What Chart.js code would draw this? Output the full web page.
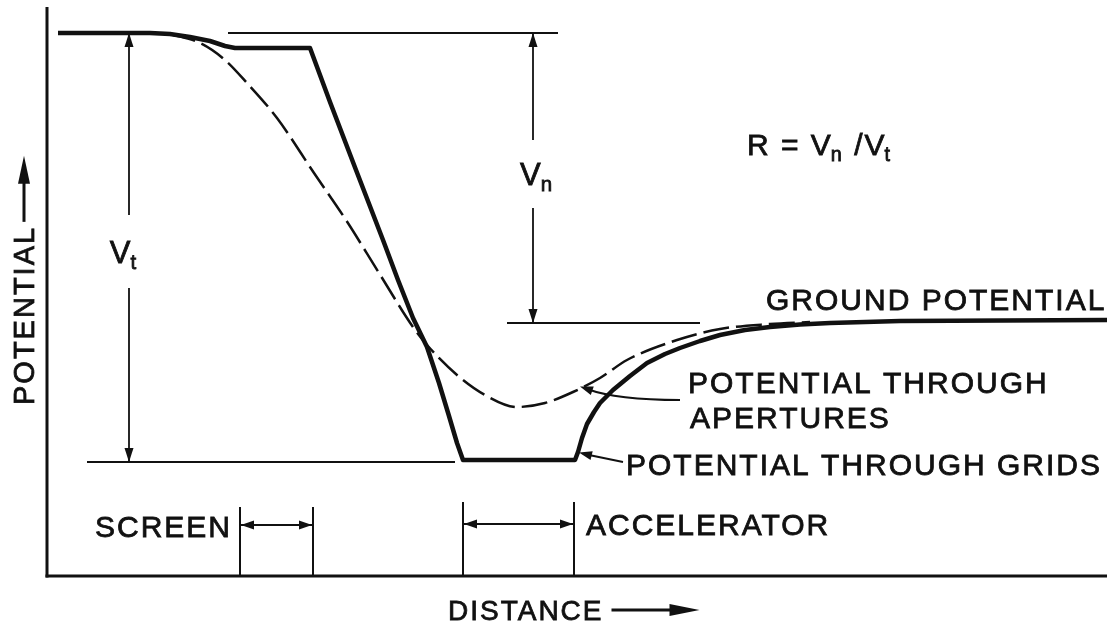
<!DOCTYPE html>
<html>
<head>
<meta charset="utf-8">
<title>Potential through grids and apertures</title>
<script src="https://cdn.jsdelivr.net/npm/chart.js@4.4.1/dist/chart.umd.min.js"></script>
<style>
  html, body { margin: 0; padding: 0; background: #fff; }
  #wrap { width: 1107px; height: 629px; }
</style>
</head>
<body>
<div id="wrap"><canvas id="chart" width="1107" height="629"></canvas></div>
<script>
// Distance (x) and potential (y) in drawing units, origin at the axes corner
const gridsDistance  = [1.1, 10.3, 12.3, 14.3, 16.3, 17.8, 18.8, 26.3, 28.3, 30.9, 33.6, 35.1, 36.6, 38.0, 39.2, 40.2, 41.0, 41.6, 52.8, 53.1, 53.5, 54.0, 54.7, 55.3, 56.6, 58.3, 60.0, 61.8, 63.3, 65.3, 67.3, 69.8, 72.3, 75.3, 78.3, 85.3, 106];
const gridsPotential = [54.3, 54.3, 54.2, 53.9, 53.5, 53.0, 52.8, 52.8, 47.4, 40.6, 33.6, 29.6, 25.8, 22.9, 19.3, 16.0, 13.3, 11.6, 11.6, 12.4, 13.8, 15.2, 16.4, 17.3, 18.6, 20.0, 21.3, 22.2, 22.8, 23.5, 24.1, 24.6, 24.9, 25.15, 25.3, 25.5, 25.6];

const apertureDistance  = [12.3, 15.3, 17.8, 20.0, 23.0, 26.7, 29.9, 33.2, 36.6, 38.0, 41.0, 43.8, 47.0, 49.8, 52.6, 55.3, 58.0, 63.0, 67.3, 72.3, 76.3];
const aperturePotential = [54.2, 53.3, 51.6, 49.3, 45.8, 40.3, 35.6, 30.3, 24.9, 23.1, 20.1, 18.1, 16.9, 17.3, 18.4, 19.8, 21.6, 23.6, 24.7, 25.2, 25.4];

// reference levels: total (top), accelerator (bottom), ground
const topLevel    = 54.3;
const accelLevel  = 11.4;
const groundLevel = 25.3;
const topRef    = [18.1, 51.1];
const accelRef  = [4.0, 40.8];
const groundRef = [46.0, 65.3];

// electrode extents along distance
const screenSpan = [19.3, 26.6];
const accelSpan  = [41.6, 52.7];

const ink = '#111';
const FONT = '"Liberation Sans", Arial, sans-serif';

function pts(xs, ys) { return xs.map((x, i) => ({ x, y: ys[i] })); }
function flat(xs, y) { return xs.map(x => ({ x, y })); }

function head(ctx, tx, ty, dx, dy, len, half) {
  const l = Math.hypot(dx, dy); dx /= l; dy /= l;
  ctx.beginPath();
  ctx.moveTo(tx, ty);
  ctx.lineTo(tx - dx * len - dy * half, ty - dy * len + dx * half);
  ctx.lineTo(tx - dx * len + dy * half, ty - dy * len - dx * half);
  ctx.closePath();
  ctx.fill();
}

function line(ctx, x1, y1, x2, y2, w) {
  ctx.lineWidth = w;
  ctx.beginPath(); ctx.moveTo(x1, y1); ctx.lineTo(x2, y2); ctx.stroke();
}

// slightly heavier lettering, like the inked original
function label(ctx, t, x, y) {
  ctx.fillText(t, x, y);
  ctx.lineWidth = 0.8;
  ctx.strokeText(t, x, y);
}

// pieces: [text, isSubscript]
function richText(ctx, pieces, x, y, size, align) {
  const widths = pieces.map(([t, sub]) => {
    ctx.font = (sub ? size * 0.66 : size) + 'px ' + FONT;
    return ctx.measureText(t).width;
  });
  const total = widths.reduce((a, b) => a + b, 0);
  let cx = align === 'center' ? x - total / 2 : align === 'right' ? x - total : x;
  ctx.textAlign = 'left';
  pieces.forEach(([t, sub], i) => {
    ctx.font = (sub ? size * 0.66 : size) + 'px ' + FONT;
    label(ctx, t, sub ? cx - 2 : cx, sub ? y + size * 0.2 : y);
    cx += widths[i] - (sub ? 2 : 0);
  });
}

const annotate = {
  id: 'annotate',
  afterDatasetsDraw(chart) {
    const { ctx, chartArea: a, scales: { x: sx, y: sy } } = chart;
    const X = v => sx.getPixelForValue(v), Y = v => sy.getPixelForValue(v);
    ctx.save();
    ctx.strokeStyle = ink; ctx.fillStyle = ink;
    ctx.textBaseline = 'alphabetic';
    ctx.letterSpacing = '2px';

    // axes
    line(ctx, a.left, a.top + 1, a.left, a.bottom + 1.5, 3);
    line(ctx, a.left - 1.5, a.bottom, a.right, a.bottom, 3);

    // Vt dimension
    const vtx = X(8.2);
    line(ctx, vtx, Y(topLevel), vtx, Y(36.1), 1.8);
    line(ctx, vtx, Y(28.8), vtx, Y(accelLevel), 1.8);
    head(ctx, vtx, Y(topLevel), 0, -1, 14, 4.5);
    head(ctx, vtx, Y(accelLevel), 0, 1, 14, 4.5);
    richText(ctx, [['V', false], ['t', true]], vtx - 4, Y(31.3), 31, 'center');

    // Vn dimension
    const vnx = X(48.6);
    line(ctx, vnx, Y(topLevel), vnx, Y(43.6), 1.8);
    line(ctx, vnx, Y(36.8), vnx, Y(groundLevel), 1.8);
    head(ctx, vnx, Y(topLevel), 0, -1, 14, 4.5);
    head(ctx, vnx, Y(groundLevel), 0, 1, 14, 4.5);
    richText(ctx, [['V', false], ['n', true]], vnx + 5, Y(39.1), 31, 'center');

    richText(ctx, [['R = V', false], ['n', true], [' /V', false], ['t', true]], X(70.0), Y(42.1), 30, 'left');

    // electrode brackets
    [[screenSpan, 6.9, 5.1], [accelSpan, 7.4, 5.2]].forEach(([s, top, ay]) => {
      line(ctx, X(s[0]), Y(top), X(s[0]), a.bottom, 2);
      line(ctx, X(s[1]), Y(top), X(s[1]), a.bottom, 2);
      line(ctx, X(s[0]), Y(ay), X(s[1]), Y(ay), 1.8);
      head(ctx, X(s[0]) + 1, Y(ay), -1, 0, 13, 4.5);
      head(ctx, X(s[1]) - 1, Y(ay), 1, 0, 13, 4.5);
    });

    ctx.font = '30px ' + FONT;
    ctx.textAlign = 'right';
    label(ctx, 'SCREEN', X(18.5), Y(3.9));
    ctx.textAlign = 'left';
    label(ctx, 'ACCELERATOR', X(53.9), Y(4.1));
    label(ctx, 'GROUND POTENTIAL', X(71.9), Y(26.6));
    label(ctx, 'POTENTIAL THROUGH', X(64.1), Y(18.3));
    label(ctx, 'APERTURES', X(64.3), Y(14.8));
    label(ctx, 'POTENTIAL THROUGH GRIDS', X(57.9), Y(10.1));

    // leaders to the curves
    ctx.lineWidth = 2;
    ctx.beginPath();
    ctx.moveTo(X(63.3), Y(17.6));
    ctx.quadraticCurveTo(X(57.0), Y(17.6), X(54.0), Y(18.7));
    ctx.stroke();
    head(ctx, X(53.3), Y(18.95), -1, -0.35, 13, 4.5);
    line(ctx, X(57.6), Y(11.4), X(54.2), Y(12.1), 2);
    head(ctx, X(53.2), Y(12.35), -1, -0.25, 13, 4.5);

    // axis titles
    ctx.font = '28px ' + FONT;
    const dx = X(40.1), dy = a.bottom + 44;
    label(ctx, 'DISTANCE', dx, dy);
    const dEnd = dx + ctx.measureText('DISTANCE').width + 8;
    line(ctx, dEnd, dy - 10, dEnd + 60, dy - 10, 3);
    head(ctx, dEnd + 88, dy - 10, 1, 0, 30, 6);

    ctx.save();
    ctx.translate(a.left - 13, Y(17.1));
    ctx.rotate(-Math.PI / 2);
    ctx.font = '29px ' + FONT;
    label(ctx, 'POTENTIAL', 0, 0);
    const pEnd = ctx.measureText('POTENTIAL').width + 4;
    line(ctx, pEnd, -10, pEnd + 42, -10, 3);
    head(ctx, pEnd + 66, -10, 1, 0, 28, 6);
    ctx.restore();

    ctx.restore();
  }
};

const thin = { borderColor: ink, borderWidth: 2, pointRadius: 0, showLine: true, tension: 0 };

new Chart(document.getElementById('chart'), {
  type: 'scatter',
  data: {
    datasets: [
      { label: 'Potential through grids', data: pts(gridsDistance, gridsPotential),
        showLine: true, borderColor: ink, borderWidth: 4.5, pointRadius: 0,
        tension: 0, borderJoinStyle: 'round', clip: false },
      { label: 'Potential through apertures', data: pts(apertureDistance, aperturePotential),
        showLine: true, borderColor: ink, borderWidth: 2.5, borderDash: [26, 7], pointRadius: 0,
        cubicInterpolationMode: 'monotone' },
      { label: 'top', data: flat(topRef, topLevel), ...thin },
      { label: 'accel', data: flat(accelRef, accelLevel), ...thin },
      { label: 'ground', data: flat(groundRef, groundLevel), ...thin },
    ],
  },
  options: {
    responsive: false,
    animation: false,
    events: [],
    layout: { padding: { left: 47, right: 0, top: 6, bottom: 53 } },
    scales: {
      x: { type: 'linear', min: 0, max: 106, display: false },
      y: { type: 'linear', min: 0, max: 57, display: false },
    },
    plugins: { legend: { display: false }, tooltip: { enabled: false } },
  },
  plugins: [annotate],
});
</script>
</body>
</html>
